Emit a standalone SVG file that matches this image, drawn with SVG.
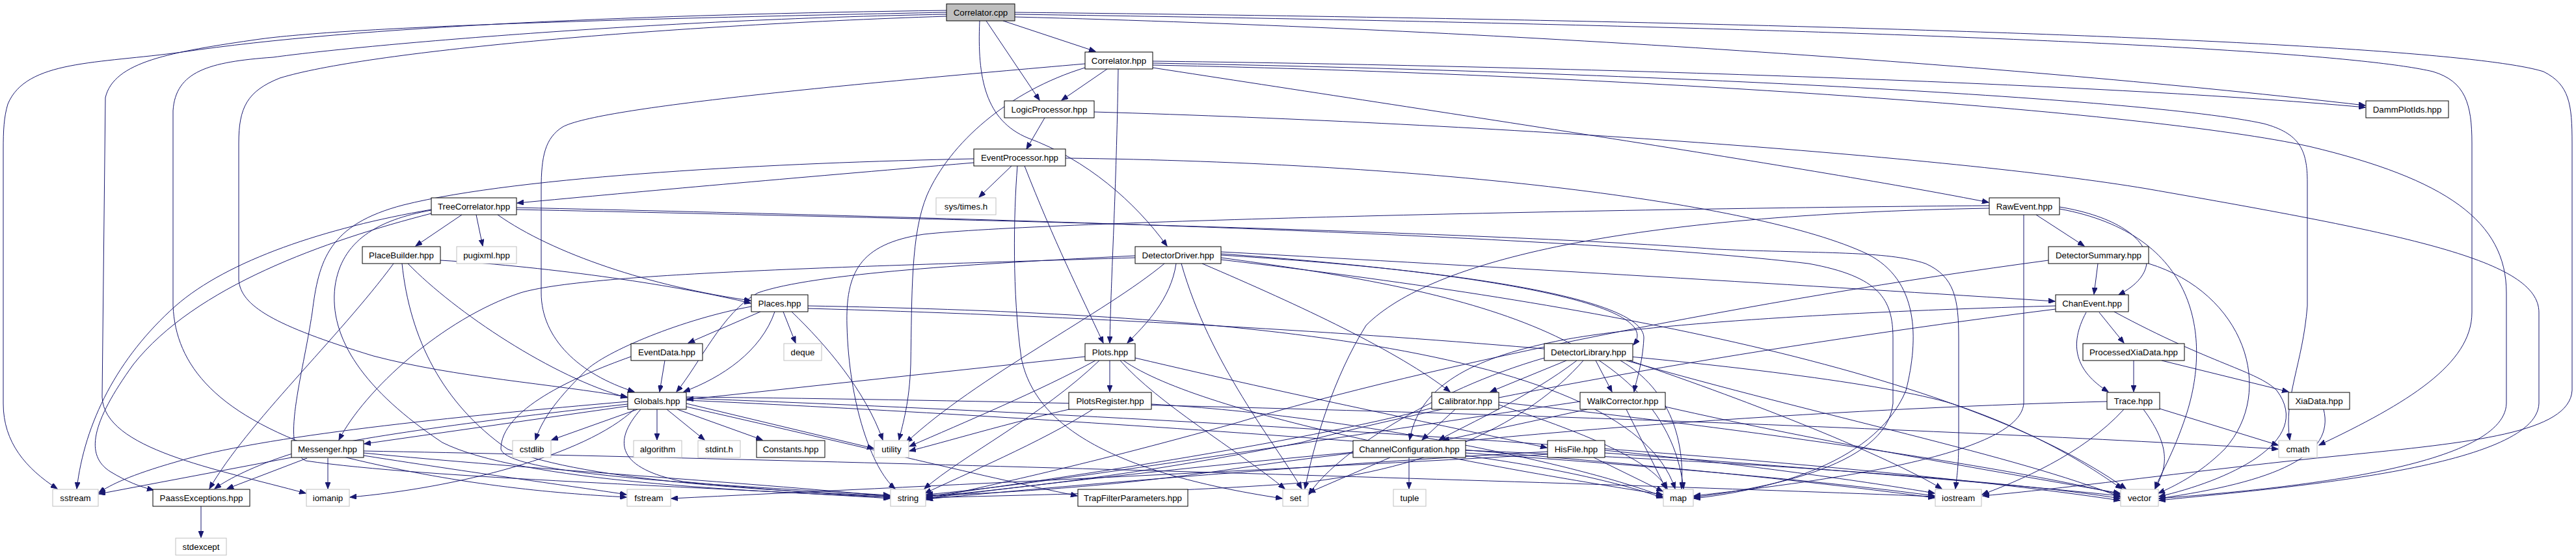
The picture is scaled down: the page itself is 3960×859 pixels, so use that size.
<svg xmlns="http://www.w3.org/2000/svg" width="3960" height="859" viewBox="0 0 3960 859">
<style>
.n rect{fill:#fff;stroke:#000;stroke-width:1}
.s rect{fill:#fff;stroke:#bfbfbf;stroke-width:1}
.r rect{fill:#bfbfbf;stroke:#000;stroke-width:1}
text{font-family:"Liberation Sans",Arial,Helvetica,sans-serif;font-size:13.3px;text-anchor:middle;fill:#000}
#edges path{fill:none;stroke:#191970;stroke-width:1;marker-end:url(#a)}
</style>
<defs>
<marker id="a" markerWidth="11" markerHeight="8" refX="10" refY="4" orient="auto" markerUnits="userSpaceOnUse">
<path d="M0,0 L10,4 L0,8 z" fill="#191970" stroke="#191970" stroke-width="1"/>
</marker>
</defs>
<rect width="3960" height="859" fill="#fff"/>
<g id="edges">
<path d="M1542,32 L1684,79"/>
<path d="M1516,32 L1598,154"/>
<path d="M1506,32 C1502,120 1515,185 1580,212 C1670,245 1745,310 1794,378"/>
<path d="M1455,16 C1000,22 550,40 280,80 C150,98 40,92 12,160 C6,180 5,200 5,230 L5,620 C5,680 40,720 88,751"/>
<path d="M1455,19 C1000,28 550,40 400,60 C260,80 175,95 162,150 L157,610 C160,690 330,720 470,758"/>
<path d="M1455,22 C1000,30 550,70 420,88 C320,95 270,110 266,170 L266,470 C270,560 330,640 520,700 C700,745 850,758 963,764"/>
<path d="M1455,25 C1000,40 560,80 430,120 C380,140 367,165 367,220 L367,430 C370,470 420,500 574,547 C700,580 850,590 964,610"/>
<path d="M1560,26 C2300,45 3100,100 3636,162"/>
<path d="M1560,22 C2500,35 3550,65 3740,110 C3790,125 3800,160 3800,220 L3800,480 C3800,560 3700,620 3565,684"/>
<path d="M1560,19 C2600,30 3750,60 3910,110 C3950,130 3954,160 3954,220 L3954,600 C3950,665 3800,680 3600,700 C3400,720 3200,748 3048,762"/>
<path d="M1702,106 L1632,154"/>
<path d="M1719,106 C1716,300 1708,420 1706,527"/>
<path d="M1668,98 C1300,130 920,165 865,195 C838,212 832,240 832,290 L832,450 C832,520 890,575 975,602"/>
<path d="M1668,104 C1550,140 1460,220 1425,300 C1400,360 1402,450 1400,560 C1398,620 1388,650 1382,676"/>
<path d="M1772,94 C2300,100 3200,125 3636,165"/>
<path d="M1772,97 C2500,110 3300,150 3480,190 C3535,205 3547,230 3547,280 L3547,470 C3540,560 3510,610 3520,676"/>
<path d="M1772,100 C2500,115 3300,170 3550,225 C3760,275 3853,340 3853,450 L3853,620 C3850,720 3500,752 3319,766"/>
<path d="M1772,104 C2200,170 2800,260 3057,311"/>
<path d="M1606,181 L1578,229"/>
<path d="M1682,172 C2300,190 3000,240 3300,290 C3700,360 3903,400 3903,480 L3903,620 C3900,720 3500,750 3319,769"/>
<path d="M1555,255 L1505,303"/>
<path d="M1575,255 C1620,370 1660,450 1696,527"/>
<path d="M1564,255 C1558,330 1556,450 1570,550 C1590,650 1700,725 1971,766"/>
<path d="M1638,243 C2200,250 2700,310 2870,390 C2950,430 2950,520 2930,600 C2880,720 2700,755 2604,766"/>
<path d="M1497,250 C1200,275 1000,293 795,312"/>
<path d="M1497,244 C1200,250 800,270 620,315 C505,345 490,400 480,480 C465,580 430,690 470,708 C650,735 1100,748 1368,766"/>
<path d="M710,330 L639,378"/>
<path d="M732,330 L742,378"/>
<path d="M765,330 C850,390 1000,440 1154,462"/>
<path d="M663,322 C500,350 350,400 270,470 C180,550 130,650 118,751"/>
<path d="M663,328 C500,370 300,440 205,560 C140,650 130,700 170,725 C195,740 215,748 236,753"/>
<path d="M663,323 C580,338 525,370 515,440 C505,520 560,600 680,680 C800,740 1150,755 1368,764"/>
<path d="M794,319 C1500,335 2400,360 2780,405 C2890,425 2910,460 2910,520 L2910,620 C2900,720 2700,752 2604,764"/>
<path d="M794,322 C1500,337 2300,357 2640,383 C2800,390 2900,385 2960,405 C3005,425 3011,460 3011,520 L3011,680 C3011,715 3008,735 3006,751"/>
<path d="M605,405 C520,520 380,650 322,751"/>
<path d="M627,405 C700,480 850,580 964,611"/>
<path d="M618,405 C630,520 680,620 780,690 C900,740 1200,755 1368,762"/>
<path d="M677,400 C850,410 1050,440 1154,466"/>
<path d="M1169,479 L1058,527"/>
<path d="M1191,479 C1170,540 1110,580 1051,602"/>
<path d="M1204,479 L1223,527"/>
<path d="M1217,479 C1270,530 1330,600 1357,676"/>
<path d="M1155,471 C1050,490 930,540 900,570 C860,610 835,640 823,676"/>
<path d="M1242,470 C1800,480 2500,520 2575,751"/>
<path d="M1242,474 C2000,495 2800,560 3000,620 C3150,670 3230,730 3262,751"/>
<path d="M1022,554 L1014,602"/>
<path d="M970,548 C880,580 770,630 770,690 C780,730 1100,745 1368,761"/>
<path d="M1668,548 L1056,614"/>
<path d="M1684,554 C1600,600 1480,650 1398,686"/>
<path d="M1690,554 C1600,640 1480,700 1421,751"/>
<path d="M1706,554 L1706,602"/>
<path d="M1722,554 C1780,620 1900,690 1975,751"/>
<path d="M1727,554 C1850,640 2300,720 2556,760"/>
<path d="M1745,550 C2000,610 2200,650 2378,688"/>
<path d="M1648,628 C1550,650 1450,680 1398,693"/>
<path d="M1680,629 C1600,680 1480,730 1422,758"/>
<path d="M1770,621 C2100,640 2450,720 2556,763"/>
<path d="M1745,393 C1500,405 1250,420 1165,450 C1110,480 1075,560 1040,602"/>
<path d="M1745,396 C1300,410 900,420 800,450 C680,490 560,600 521,676"/>
<path d="M1790,405 C1700,480 1500,580 1393,680"/>
<path d="M1808,405 C1800,460 1760,500 1733,527"/>
<path d="M1816,405 C1860,560 1960,680 2001,751"/>
<path d="M1848,405 C2000,470 2150,540 2229,602"/>
<path d="M1877,390 C2300,420 2560,470 2511,530"/>
<path d="M1877,392 C2250,415 2530,460 2527,520 C2525,560 2515,585 2512,602"/>
<path d="M1877,387 C2300,410 2800,440 3159,463"/>
<path d="M1877,396 C2200,440 2560,500 2588,751"/>
<path d="M1877,399 C2400,460 3000,560 3268,751"/>
<path d="M2408,554 L2291,602"/>
<path d="M2453,554 L2478,602"/>
<path d="M2424,554 C2350,610 2260,650 2212,676"/>
<path d="M2491,554 C2570,600 2590,680 2585,751"/>
<path d="M2434,554 C2350,650 2200,720 2000,742 C1800,758 1500,762 1424,765"/>
<path d="M2374,550 C2200,600 2050,700 2012,760"/>
<path d="M2500,554 C2800,640 3100,700 3260,764"/>
<path d="M2505,554 C2700,620 2900,700 2985,751"/>
<path d="M2237,629 L2186,676"/>
<path d="M2201,627 C2000,680 1600,740 1424,763"/>
<path d="M2304,622 C2450,670 2540,710 2563,751"/>
<path d="M2304,618 C2700,660 3100,720 3259,760"/>
<path d="M2440,629 L2218,677"/>
<path d="M2500,629 L2561,751"/>
<path d="M2429,617 C2000,680 1600,745 1424,760"/>
<path d="M2560,625 C2800,680 3100,730 3259,758"/>
<path d="M2166,703 L2166,751"/>
<path d="M2137,703 L2012,757"/>
<path d="M2080,695 C1800,720 1550,750 1424,766"/>
<path d="M2253,700 C2400,720 2500,745 2556,765"/>
<path d="M2253,696 C2600,720 2850,745 2974,762"/>
<path d="M2253,692 C2700,710 3100,740 3259,766"/>
<path d="M2450,703 L2556,755"/>
<path d="M2379,694 C2000,715 1600,750 1424,767"/>
<path d="M2379,698 C2000,720 1400,748 1032,766"/>
<path d="M2467,692 C2700,715 2900,745 2974,758"/>
<path d="M2467,696 C2800,720 3100,745 3259,762"/>
<path d="M3130,330 L3204,378"/>
<path d="M3166,318 C3300,340 3340,410 3257,453"/>
<path d="M3166,321 C3380,360 3400,520 3360,640 C3340,700 3320,730 3313,751"/>
<path d="M3058,316 C2500,320 1600,340 1420,360 C1320,375 1300,420 1302,500 C1305,620 1340,720 1376,751"/>
<path d="M3058,320 C2500,330 2200,400 2100,500 C2050,580 2020,680 2006,751"/>
<path d="M3111,330 L3111,620 C3105,700 2800,740 2604,762"/>
<path d="M3225,405 L3219,452"/>
<path d="M3149,400 C2700,460 2200,560 1900,650 C1650,720 1500,750 1424,768"/>
<path d="M3303,405 C3450,450 3500,600 3420,690 C3380,730 3340,748 3318,758"/>
<path d="M3227,480 L3265,527"/>
<path d="M3207,480 C3180,530 3190,570 3241,602"/>
<path d="M3250,479 C3400,560 3470,570 3500,600 C3560,680 3420,740 3319,763"/>
<path d="M3160,470 C2800,480 2500,500 2380,527 C2250,555 2180,600 2167,676"/>
<path d="M3160,475 C2800,520 2300,600 2000,680 C1700,740 1500,755 1424,764"/>
<path d="M3280,554 L3280,602"/>
<path d="M3323,554 L3518,602"/>
<path d="M3320,628 L3502,684"/>
<path d="M3295,629 C3340,690 3330,720 3313,751"/>
<path d="M3265,629 C3200,700 3100,740 3047,760"/>
<path d="M3239,617 C2900,625 2300,660 1900,720 C1700,750 1500,760 1424,761"/>
<path d="M3572,629 C3590,700 3500,740 3319,766"/>
<path d="M965,624 L560,682"/>
<path d="M980,629 L848,676"/>
<path d="M1010,629 L1010,676"/>
<path d="M1025,629 L1083,676"/>
<path d="M1041,629 L1172,676"/>
<path d="M1055,620 L1343,689"/>
<path d="M965,617 C700,640 400,670 270,710 C200,730 170,745 152,757"/>
<path d="M965,621 C700,650 500,680 440,700 C380,720 345,740 330,751"/>
<path d="M985,629 C940,680 950,720 1050,740 C1200,755 1300,760 1368,764"/>
<path d="M1055,625 C1300,680 1500,730 1656,762"/>
<path d="M975,629 C900,700 700,750 538,764"/>
<path d="M1055,615 C1600,640 2500,700 2974,765"/>
<path d="M1055,612 C1800,640 2800,700 3259,769"/>
<path d="M1055,610 C2000,620 3000,660 3502,690"/>
<path d="M448,703 L152,759"/>
<path d="M472,704 L349,751"/>
<path d="M504,704 L504,751"/>
<path d="M559,696 C800,720 1200,745 1368,763"/>
<path d="M559,700 C750,730 900,750 963,760"/>
<path d="M559,693 C1200,705 2400,740 2974,763"/>
<path d="M309,778 L309,826"/>
</g>
<g id="n-Correlator_cpp" class="r"><rect x="1455" y="6" width="105" height="26"/><text x="1507.5" y="23.5">Correlator.cpp</text></g>
<g id="n-Correlator_hpp" class="n"><rect x="1668" y="80" width="104" height="26"/><text x="1720" y="97.5">Correlator.hpp</text></g>
<g id="n-LogicProcessor_hpp" class="n"><rect x="1544" y="155" width="138" height="26"/><text x="1613" y="172.5">LogicProcessor.hpp</text></g>
<g id="n-DammPlotIds_hpp" class="n"><rect x="3637" y="155" width="127" height="26"/><text x="3700.5" y="172.5">DammPlotIds.hpp</text></g>
<g id="n-EventProcessor_hpp" class="n"><rect x="1497" y="229" width="141" height="26"/><text x="1567.5" y="246.5">EventProcessor.hpp</text></g>
<g id="n-sys_times_h" class="s"><rect x="1439" y="304" width="92" height="26"/><text x="1485" y="321.5">sys/times.h</text></g>
<g id="n-TreeCorrelator_hpp" class="n"><rect x="663" y="304" width="131" height="26"/><text x="728.5" y="321.5">TreeCorrelator.hpp</text></g>
<g id="n-RawEvent_hpp" class="n"><rect x="3058" y="304" width="108" height="26"/><text x="3112" y="321.5">RawEvent.hpp</text></g>
<g id="n-PlaceBuilder_hpp" class="n"><rect x="557" y="379" width="120" height="26"/><text x="617" y="396.5">PlaceBuilder.hpp</text></g>
<g id="n-pugixml_hpp" class="s"><rect x="702" y="379" width="92" height="26"/><text x="748" y="396.5">pugixml.hpp</text></g>
<g id="n-DetectorDriver_hpp" class="n"><rect x="1745" y="379" width="132" height="26"/><text x="1811" y="396.5">DetectorDriver.hpp</text></g>
<g id="n-DetectorSummary_hpp" class="n"><rect x="3149" y="379" width="154" height="26"/><text x="3226" y="396.5">DetectorSummary.hpp</text></g>
<g id="n-Places_hpp" class="n"><rect x="1155" y="453" width="87" height="26"/><text x="1198.5" y="470.5">Places.hpp</text></g>
<g id="n-ChanEvent_hpp" class="n"><rect x="3160" y="453" width="112" height="26"/><text x="3216" y="470.5">ChanEvent.hpp</text></g>
<g id="n-EventData_hpp" class="n"><rect x="970" y="528" width="110" height="26"/><text x="1025" y="545.5">EventData.hpp</text></g>
<g id="n-deque" class="s"><rect x="1205" y="528" width="58" height="26"/><text x="1234" y="545.5">deque</text></g>
<g id="n-Plots_hpp" class="n"><rect x="1668" y="528" width="77" height="26"/><text x="1706.5" y="545.5">Plots.hpp</text></g>
<g id="n-DetectorLibrary_hpp" class="n"><rect x="2374" y="528" width="136" height="26"/><text x="2442" y="545.5">DetectorLibrary.hpp</text></g>
<g id="n-ProcessedXiaData_hpp" class="n"><rect x="3202" y="528" width="156" height="26"/><text x="3280" y="545.5">ProcessedXiaData.hpp</text></g>
<g id="n-Globals_hpp" class="n"><rect x="965" y="603" width="90" height="26"/><text x="1010" y="620.5">Globals.hpp</text></g>
<g id="n-PlotsRegister_hpp" class="n"><rect x="1643" y="603" width="127" height="26"/><text x="1706.5" y="620.5">PlotsRegister.hpp</text></g>
<g id="n-Calibrator_hpp" class="n"><rect x="2201" y="603" width="103" height="26"/><text x="2252.5" y="620.5">Calibrator.hpp</text></g>
<g id="n-WalkCorrector_hpp" class="n"><rect x="2429" y="603" width="131" height="26"/><text x="2494.5" y="620.5">WalkCorrector.hpp</text></g>
<g id="n-Trace_hpp" class="n"><rect x="3239" y="603" width="81" height="26"/><text x="3279.5" y="620.5">Trace.hpp</text></g>
<g id="n-XiaData_hpp" class="n"><rect x="3518" y="603" width="94" height="26"/><text x="3565" y="620.5">XiaData.hpp</text></g>
<g id="n-Messenger_hpp" class="n"><rect x="448" y="677" width="111" height="26"/><text x="503.5" y="694.5">Messenger.hpp</text></g>
<g id="n-cstdlib" class="s"><rect x="788" y="677" width="59" height="26"/><text x="817.5" y="694.5">cstdlib</text></g>
<g id="n-algorithm" class="s"><rect x="974" y="677" width="74" height="26"/><text x="1011" y="694.5">algorithm</text></g>
<g id="n-stdint_h" class="s"><rect x="1073" y="677" width="65" height="26"/><text x="1105.5" y="694.5">stdint.h</text></g>
<g id="n-Constants_hpp" class="n"><rect x="1163" y="677" width="105" height="26"/><text x="1215.5" y="694.5">Constants.hpp</text></g>
<g id="n-utility" class="s"><rect x="1344" y="677" width="53" height="26"/><text x="1370.5" y="694.5">utility</text></g>
<g id="n-ChannelConfiguration_hpp" class="n"><rect x="2080" y="677" width="173" height="26"/><text x="2166.5" y="694.5">ChannelConfiguration.hpp</text></g>
<g id="n-HisFile_hpp" class="n"><rect x="2379" y="677" width="88" height="26"/><text x="2423" y="694.5">HisFile.hpp</text></g>
<g id="n-cmath" class="s"><rect x="3503" y="677" width="59" height="26"/><text x="3532.5" y="694.5">cmath</text></g>
<g id="n-sstream" class="s"><rect x="81" y="752" width="70" height="26"/><text x="116" y="769.5">sstream</text></g>
<g id="n-PaassExceptions_hpp" class="n"><rect x="235" y="752" width="149" height="26"/><text x="309.5" y="769.5">PaassExceptions.hpp</text></g>
<g id="n-iomanip" class="s"><rect x="471" y="752" width="66" height="26"/><text x="504" y="769.5">iomanip</text></g>
<g id="n-fstream" class="s"><rect x="964" y="752" width="67" height="26"/><text x="997.5" y="769.5">fstream</text></g>
<g id="n-string" class="s"><rect x="1369" y="752" width="54" height="26"/><text x="1396" y="769.5">string</text></g>
<g id="n-TrapFilterParameters_hpp" class="n"><rect x="1657" y="752" width="169" height="26"/><text x="1741.5" y="769.5">TrapFilterParameters.hpp</text></g>
<g id="n-set" class="s"><rect x="1972" y="752" width="39" height="26"/><text x="1991.5" y="769.5">set</text></g>
<g id="n-tuple" class="s"><rect x="2142" y="752" width="50" height="26"/><text x="2167" y="769.5">tuple</text></g>
<g id="n-map" class="s"><rect x="2557" y="752" width="46" height="26"/><text x="2580" y="769.5">map</text></g>
<g id="n-iostream" class="s"><rect x="2975" y="752" width="71" height="26"/><text x="3010.5" y="769.5">iostream</text></g>
<g id="n-vector" class="s"><rect x="3260" y="752" width="58" height="26"/><text x="3289" y="769.5">vector</text></g>
<g id="n-stdexcept" class="s"><rect x="270" y="827" width="78" height="26"/><text x="309" y="844.5">stdexcept</text></g>
</svg>
